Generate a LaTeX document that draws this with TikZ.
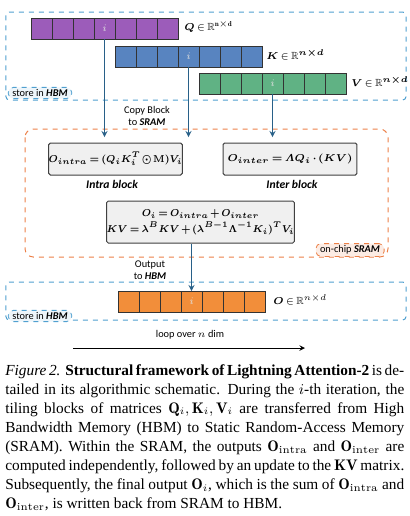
\documentclass[tikz,border=0pt]{standalone}
\usepackage{amsmath}
\usepackage{amssymb}
\usepackage{bm}
\usepackage{graphicx}
\usepackage{fontspec}
\usepackage{tikz}
\usetikzlibrary{calc}
\newfontfamily\diagfont{Carlito}
\newfontfamily\capfont{Liberation Serif}
\definecolor{qcol}{RGB}{156,92,186}
\definecolor{kcol}{RGB}{88,132,192}
\definecolor{vcol}{RGB}{96,178,132}
\definecolor{ocol}{RGB}{242,142,58}
\definecolor{hbmcol}{RGB}{80,160,208}
\definecolor{sramcol}{RGB}{236,128,72}
\definecolor{flowcol}{RGB}{40,96,136}
\newcommand{\tightmath}{\thickmuskip=3mu plus 1mu\medmuskip=2mu plus 1mu}
\newcommand{\narrow}[1]{\scalebox{0.9}[1]{#1}}

\begin{document}
\begin{tikzpicture}[x=0.6pt,y=-0.6pt,
	cell/.style={draw=black!80,line width=0.5pt,minimum width=12.6pt,minimum height=12.6pt,inner sep=0pt,outer sep=0pt},
	calc box/.style={draw=black!75,fill=black!6,rounded corners=1pt,line width=0.6pt,inner sep=0pt,font=\fontsize{6.2}{8}\selectfont\boldmath\tightmath},
	mat label/.style={anchor=west,inner sep=0pt,font=\fontsize{6.2}{7}\selectfont\tightmath},
	pill/.style={rounded corners=3pt,dashed,line width=0.5pt,inner xsep=2.5pt,inner ysep=1.2pt,font=\diagfont\fontsize{6.2}{7}\selectfont},
	flow/.style={->,>=stealth,draw=flowcol,line width=0.6pt},
	small text/.style={font=\diagfont\fontsize{6.2}{7.2}\selectfont,align=center}]
	\useasboundingbox (0,0) rectangle (409,516);
	% memory regions
	\draw [hbmcol,dashed,line width=0.6pt,rounded corners=2pt] (6,12) rectangle (406,100);
	\draw [hbmcol,dashed,line width=0.6pt,rounded corners=2pt] (6,282) rectangle (406,320);
	\draw [sramcol,dashed,line width=0.6pt,rounded corners=5pt] (25,129) rectangle (388,257);
	\node [pill,draw=hbmcol,fill=hbmcol!10] (hbmtag) at (40,93) {store in \textbf{\textit{HBM}}};
	\node [pill,draw=hbmcol,fill=hbmcol!10] (hbmtagout) at (40,316) {store in \textbf{\textit{HBM}}};
	\node [pill,draw=sramcol,fill=sramcol!15] (sramtag) at (350,250) {on-chip \textbf{\textit{SRAM}}};
	% tiled matrices
	\foreach \k in {0,...,6} {
		\node [cell,fill=qcol] (q\k) at (41.5+21*\k,28.5) {};
		\node [cell,fill=kcol] (k\k) at (125.5+21*\k,56.5) {};
		\node [cell,fill=vcol] (v\k) at (209.5+21*\k,83.5) {};
		\node [cell,fill=ocol] (o\k) at (128.5+21*\k,301.5) {};
	}
	\foreach \m in {q,k,v,o} \node [text=white!88!black,font=\fontsize{6}{6}\selectfont] at (\m3) {$i$};
	\node [mat label] (qlab) at (184,27) {$\bm{Q}\in\mathbb{R}^{\mathbf{n\times d}}$};
	\node [mat label] (klab) at (266,55) {$\bm{K}\in\mathbb{R}^{\bm{n\times d}}$};
	\node [mat label] (vlab) at (351,82) {$\bm{V}\in\mathbb{R}^{\bm{n\times d}}$};
	\node [mat label] (olab) at (273,300) {$\bm{O}\in\mathbb{R}^{n\times d}$};
	% computation in SRAM
	\node [calc box,minimum width=79.8pt,minimum height=19.2pt] (intra) at (115.5,159) {\narrow{$O_{intra}=(Q_iK_i^T\odot\mathbf{M})V_i$}};
	\node [calc box,minimum width=80.4pt,minimum height=19.2pt] (inter) at (290,159) {$O_{inter}=\varLambda Q_i\cdot(KV)$};
	\node [calc box,minimum width=112.2pt,minimum height=25.2pt,align=center] (update) at (200.5,222) {\narrow{$O_i=O_{intra}+O_{inter}$}\\[1.5pt]\narrow{$KV=\lambda^BKV+(\lambda^{B-1}\Lambda^{-1}K_i)^TV_i$}};
	\node [font=\diagfont\bfseries\itshape\fontsize{7}{8}\selectfont] (intralab) at (112,184) {Intra block};
	\node [font=\diagfont\bfseries\itshape\fontsize{7}{8}\selectfont] (interlab) at (292,184) {Inter block};
	% data movement
	\coordinate (qin) at (104.5,137);
	\coordinate (kin) at (188.5,137);
	\coordinate (vin) at (272.5,137);
	\draw [flow] (q3.south) -- (qin);
	\draw [flow] (k3.south) -- (kin);
	\draw [flow] (v3.south) -- (vin);
	\draw [flow] (update.south -| o3.north) -- (o3.north);
	\node [small text] (copylab) at (147,116) {Copy Block\\to \textbf{\textit{SRAM}}};
	\node [small text] (outlab) at (150,270) {Output\\to \textbf{\textit{HBM}}};
	\node [small text] (looplab) at (190,335) {loop over $n$ dim};
	\coordinate (loopa) at (73,348);
	\coordinate (loopb) at (305,348);
	\draw [->,>=stealth,line width=0.5pt] (loopa) -- (loopb);
	% caption
	\node [anchor=north west,inner sep=0pt,text width=239.4pt,align=justify,font=\capfont\fontsize{9.2}{11.45}\selectfont] (caption) at (5,364) {\textit{Figure 2.} \textbf{Structural framework of Lightning Attention-2} is de-\linebreak
	tailed in its algorithmic schematic. During the $i$-th iteration, the\linebreak
	tiling blocks of matrices $\mathbf{Q}_i,\mathbf{K}_i,\mathbf{V}_i$ are transferred from High\linebreak
	Bandwidth Memory (HBM) to Static Random-Access Memory\linebreak
	(SRAM). Within the SRAM, the outputs $\mathbf{O}_{\mathrm{intra}}$ and $\mathbf{O}_{\mathrm{inter}}$ are\linebreak
	computed independently, followed by an update to the $\mathbf{KV}$ matrix.\linebreak
	Subsequently, the final output $\mathbf{O}_i$, which is the sum of $\mathbf{O}_{\mathrm{intra}}$ and\linebreak
	$\mathbf{O}_{\mathrm{inter}}$, is written back from SRAM to HBM.};
\end{tikzpicture}
\end{document}
